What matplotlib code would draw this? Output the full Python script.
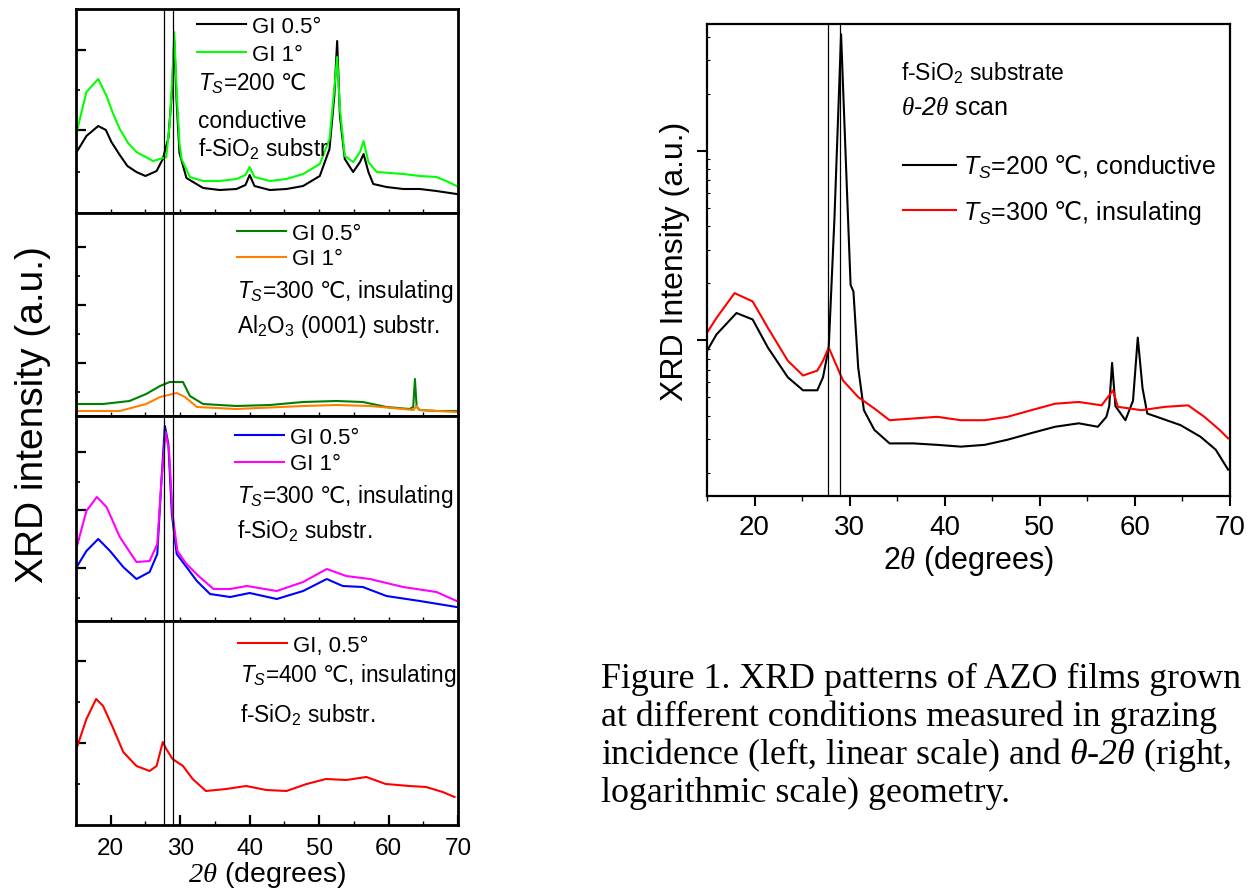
import matplotlib
matplotlib.use('Agg')
import matplotlib.pyplot as plt
from matplotlib.ticker import FixedLocator, MultipleLocator, LogLocator, NullFormatter

plt.rcParams['font.family'] = ['Liberation Sans', 'DejaVu Sans']
plt.rcParams['mathtext.fontset'] = 'custom'
plt.rcParams['mathtext.it'] = 'Liberation Sans:italic'
plt.rcParams['mathtext.rm'] = 'DejaVu Sans'
plt.rcParams['mathtext.sf'] = 'Liberation Serif:italic'
plt.rcParams['mathtext.bf'] = 'Liberation Sans:italic'

# ---------------- data ----------------
VLINES = [27.7, 29.0]

# Panel 1: Ts=200 C, conductive, f-SiO2
P1_X_GI05 = [15.1, 16.5, 18.2, 19.3, 20.1, 21.3, 22.4, 23.7, 25.0, 26.6, 27.5, 28.3, 28.8, 29.15, 29.5, 29.9,
             30.9, 33.3, 35.7, 38.1, 39.4, 40.0, 40.7, 42.9, 45.3, 47.7, 50.1, 51.5, 52.2, 52.6, 53.0, 53.7,
             54.9, 55.9, 56.4, 57.1, 57.8, 59.7, 62.1, 64.5, 66.9, 69.8]
P1_Y_GI05 = [61, 77, 87, 83, 71, 58, 47, 41, 37, 42, 54, 75, 120, 172, 110, 60,
             35, 25, 23, 24, 28, 38, 27, 23, 24, 27, 37, 64, 118, 172, 97, 54,
             41, 51, 59, 41, 29, 26, 24, 24, 22, 19]
P1_X_GI1 = [15.1, 16.5, 18.2, 19.4, 20.3, 21.3, 22.5, 23.7, 26.1, 28.0, 28.5, 28.9, 29.15, 29.5, 29.9, 30.2,
            31.4, 33.3, 35.7, 38.1, 39.4, 40.0, 40.7, 42.9, 45.3, 47.7, 50.1, 51.5, 52.2, 52.6, 53.0, 53.7,
            54.9, 55.9, 56.4, 57.1, 58.3, 62.1, 64.5, 66.9, 68.3, 69.8]
P1_Y_GI1 = [81, 121, 134, 117, 100, 84, 70, 61, 52, 56, 90, 140, 181, 120, 70, 54,
            36, 32, 32, 34, 38, 46, 36, 32, 34, 39, 49, 74, 125, 156, 104, 57,
            51, 61, 72, 51, 41, 39, 37, 36, 32, 27]

# Panel 2: Ts=300 C, insulating, Al2O3
P2_X_GI05 = [15.1, 18.9, 22.7, 25.1, 27.1, 28.5, 30.4, 31.4, 33.3, 38.1, 42.9, 47.7, 52.5, 56.3, 59.7,
             63.0, 63.55, 63.8, 64.05, 64.5, 66.9, 69.8]
P2_Y_GI05 = [12, 12, 15, 22, 30, 34, 34, 20, 12, 10, 11, 14, 15, 14, 9,
             7, 9, 37, 9, 6, 5, 5]
P2_X_GI1 = [15.1, 21.3, 25.1, 27.1, 29.5, 30.7, 32.4, 38.1, 47.7, 52.5, 57.3, 62.1, 63.6, 64.0, 64.4, 69.8]
P2_Y_GI1 = [5, 5, 12, 19, 23, 19, 9, 7, 10, 11, 10, 7, 6, 10, 6, 4]

# Panel 3: Ts=300 C, insulating, f-SiO2
P3_X_GI05 = [15.1, 16.5, 18.2, 19.9, 21.8, 23.7, 25.6, 26.7, 27.3, 27.8, 28.3, 28.8, 29.5, 30.9, 32.4,
             34.3, 37.2, 40.0, 43.9, 47.7, 51.1, 53.4, 56.3, 59.7, 64.5, 69.8]
P3_Y_GI05 = [54, 70, 82, 70, 54, 42, 49, 67, 140, 195, 177, 107, 67, 54, 40,
             27, 24, 28, 22, 30, 42, 35, 34, 25, 20, 14]
P3_X_GI1 = [15.1, 16.5, 18.0, 19.4, 21.3, 23.7, 25.6, 26.7, 27.3, 27.9, 28.4, 28.9, 29.6, 30.9, 32.8,
            34.8, 37.2, 39.6, 43.9, 47.7, 51.1, 53.9, 57.3, 62.1, 66.9, 69.8]
P3_Y_GI1 = [74, 110, 124, 114, 84, 59, 60, 77, 140, 189, 170, 107, 70, 57, 44,
            32, 32, 35, 30, 39, 52, 45, 42, 34, 29, 20]

# Panel 4: Ts=400 C, insulating, f-SiO2
P4_X_GI05 = [15.2, 16.5, 17.9, 18.9, 20.4, 21.8, 23.7, 25.6, 26.6, 27.5, 28.0, 28.9, 30.4, 31.8, 33.7,
             36.6, 39.5, 42.4, 45.3, 48.2, 51.0, 53.9, 56.8, 59.6, 63.0, 65.4, 67.8, 69.5]
P4_Y_GI05 = [79, 106, 126, 119, 96, 73, 59, 54, 59, 83, 76, 66, 59, 46, 34,
             36, 39, 35, 34, 41, 46, 45, 48, 41, 39, 38, 33, 28]

# Right: theta-2theta scan (log scale)
R_X_200 = [15.0, 16.0, 18.1, 19.8, 21.4, 23.5, 25.1, 26.6, 27.2, 27.8, 28.4, 29.1, 29.7, 30.1, 30.4, 30.9,
           31.5, 32.6, 34.2, 36.7, 39.2, 41.7, 44.2, 46.6, 49.1, 51.6, 54.1, 56.1, 57.0, 57.3, 57.6, 57.95,
           59.0, 59.8, 60.3, 60.8, 61.3, 62.3, 64.8, 66.9, 68.5, 69.8]
R_Y_200 = [879, 1074, 1393, 1288, 916, 638, 545, 545, 638, 916, 4365, 41115, 6516, 1959, 1807, 719,
           428, 337, 286, 286, 281, 275, 281, 299, 324, 350, 365, 350, 395, 450, 760, 450,
           379, 480, 1033, 560, 411, 395, 357, 310, 265, 208]
R_X_300 = [15.0, 16.0, 17.9, 19.8, 21.4, 23.5, 25.1, 26.6, 27.2, 27.8, 28.4, 29.3, 30.9, 32.6, 34.2, 36.7,
           39.2, 41.7, 44.2, 46.6, 49.1, 51.6, 54.1, 56.5, 57.7, 58.2, 60.7, 63.2, 65.6, 67.3, 68.9, 69.8]
R_Y_300 = [1096, 1312, 1774, 1603, 1164, 780, 652, 692, 780, 916, 780, 614, 502, 437, 379, 387,
           395, 379, 379, 395, 428, 463, 473, 454, 545, 446, 428, 446, 454, 395, 337, 304]

X_TICKS = [20, 30, 40, 50, 60, 70]

# ---------------- figure ----------------
W, H = 1255, 895
fig = plt.figure(figsize=(W / 100, H / 100), dpi=100)


def fx(x):
    return x / W


def fy(y):
    return 1 - y / H


def left_axes(top, bottom):
    return fig.add_axes([fx(76), fy(bottom), fx(458) - fx(76), (bottom - top) / H])


LW = 1.5
panels = [
    dict(top=10, bottom=214, major=[83, 163], minor=[41, 123],
         series=[(P1_X_GI05, P1_Y_GI05, 'black', 'GI 0.5°'), (P1_X_GI1, P1_Y_GI1, '#00ff00', 'GI 1°')],
         leg=(197, 17), sp=0.32),
    dict(top=214, bottom=417, major=[53, 111, 169], minor=[24, 82, 140],
         series=[(P2_X_GI05, P2_Y_GI05, '#008000', 'GI 0.5°'), (P2_X_GI1, P2_Y_GI1, '#ff8000', 'GI 1°')],
         leg=(237, 224), sp=0.2),
    dict(top=417, bottom=622, major=[53, 111, 169], minor=[23, 82, 139],
         series=[(P3_X_GI05, P3_Y_GI05, '#0000ff', 'GI 0.5°'), (P3_X_GI1, P3_Y_GI1, '#ff00ff', 'GI 1°')],
         leg=(235, 428), sp=0.24),
    dict(top=622, bottom=826, major=[82, 164], minor=[41, 123],
         series=[(P4_X_GI05, P4_Y_GI05, '#ff0000', 'GI, 0.5°')],
         leg=(238, 636), sp=0.2),
]

for i, p in enumerate(panels):
    ax = left_axes(p['top'], p['bottom'])
    for xs, ys, c, lab in p['series']:
        ax.plot(xs, ys, color=c, lw=LW, label=lab)
    for v in VLINES:
        ax.axvline(v, color='black', lw=0.9)
    ax.set_xlim(15, 70)
    ax.set_ylim(0, p['bottom'] - p['top'])
    ax.yaxis.set_major_locator(FixedLocator(p['major']))
    ax.yaxis.set_minor_locator(FixedLocator(p['minor']))
    ax.tick_params(axis='y', which='major', direction='in', length=7, width=1.6, labelleft=False)
    ax.tick_params(axis='y', which='minor', direction='in', length=3, width=1.2)
    ax.xaxis.set_major_locator(FixedLocator(X_TICKS))
    ax.xaxis.set_minor_locator(MultipleLocator(5))
    for s in ax.spines.values():
        s.set_linewidth(2.0)
    if i < 3:
        ax.tick_params(axis='x', which='both', direction='in', length=3, width=1.0, labelbottom=False)
    else:
        ax.tick_params(axis='x', which='major', direction='in', length=7, width=1.6,
                       labelsize=17.5, pad=9)
        ax.tick_params(axis='x', which='minor', direction='in', length=3, width=1.0)
        ax.set_xlabel(r'$\mathsf{2\theta}$ (degrees)', fontsize=20.5, labelpad=0)
    lx, ly = p['leg']
    ax.legend(loc='upper left', bbox_to_anchor=(fx(lx), fy(ly)), bbox_transform=fig.transFigure,
              frameon=False, fontsize=16, handlelength=2.2, handletextpad=0.28,
              labelspacing=p['sp'], borderpad=0, borderaxespad=0)

TXT = 16.3
fig.text(fx(198), fy(90), r'$T_S$=200 $\mathrm{℃}$', fontsize=TXT, va='baseline')
fig.text(fx(198), fy(128), 'conductive', fontsize=TXT, va='baseline')
fig.text(fx(198), fy(156), r'f-SiO$_\mathregular{2}$ substr', fontsize=TXT, va='baseline')
fig.text(fx(237), fy(298), r'$T_S$=300 $\mathrm{℃}$, insulating', fontsize=TXT, va='baseline')
fig.text(fx(237), fy(333), r'Al$_\mathregular{2}$O$_\mathregular{3}$ (0001) substr.', fontsize=TXT, va='baseline')
fig.text(fx(237), fy(503), r'$T_S$=300 $\mathrm{℃}$, insulating', fontsize=TXT, va='baseline')
fig.text(fx(237), fy(538), r'f-SiO$_\mathregular{2}$ substr.', fontsize=TXT, va='baseline')
fig.text(fx(240), fy(682), r'$T_S$=400 $\mathrm{℃}$, insulating', fontsize=TXT, va='baseline')
fig.text(fx(240), fy(722), r'f-SiO$_\mathregular{2}$ substr.', fontsize=TXT, va='baseline')

fig.text(fx(33), fy(415), 'XRD intensity (a.u.)', fontsize=28, rotation=90, ha='center', va='center')

# ---------------- right panel ----------------
axr = fig.add_axes([fx(707), fy(497), fx(1230) - fx(707), (497 - 25) / H])
axr.plot(R_X_200, R_Y_200, color='black', lw=LW, label=r'$T_S$=200 $\mathrm{℃}$, conductive')
axr.plot(R_X_300, R_Y_300, color='#ff0000', lw=LW, label=r'$T_S$=300 $\mathrm{℃}$, insulating')
for v in VLINES:
    axr.axvline(v, color='black', lw=0.9)
axr.set_yscale('log')
axr.set_xlim(15, 70)
axr.set_ylim(151, 46560)
axr.xaxis.set_major_locator(FixedLocator(X_TICKS))
axr.xaxis.set_minor_locator(MultipleLocator(5))
axr.yaxis.set_major_locator(FixedLocator([1000, 10000]))
axr.yaxis.set_minor_locator(LogLocator(base=10, subs=range(2, 10)))
axr.yaxis.set_major_formatter(NullFormatter())
axr.yaxis.set_minor_formatter(NullFormatter())
axr.tick_params(axis='x', which='major', direction='out', length=7, width=1.5, labelsize=20, pad=6)
axr.tick_params(axis='x', which='minor', direction='out', length=3.5, width=1.0)
axr.tick_params(axis='y', which='major', direction='out', length=7, width=1.5)
axr.tick_params(axis='y', which='minor', direction='in', length=2.5, width=0.8)
for s in axr.spines.values():
    s.set_linewidth(1.6)
axr.set_xlabel(r'2$\mathsf{\theta}$ (degrees)', fontsize=22, labelpad=2)
axr.set_ylabel('XRD Intensity (a.u.)', fontsize=23, labelpad=2)
axr.legend(loc='upper left', bbox_to_anchor=(fx(903), fy(154)), bbox_transform=fig.transFigure,
           frameon=False, fontsize=18, handlelength=2.1, handletextpad=0.3,
           labelspacing=0.72, borderpad=0, borderaxespad=0)
fig.text(fx(901), fy(80), r'f-SiO$_\mathregular{2}$ substrate', fontsize=16.5, va='baseline')
fig.text(fx(901), fy(115), r'$\mathsf{\theta}$-$\mathbf{2}\mathsf{\theta}$ scan', fontsize=18, va='baseline')

# ---------------- caption ----------------
CAP = ['Figure 1. XRD patterns of AZO films grown',
       'at different conditions measured in grazing',
       r'incidence (left, linear scale) and $\mathsf{\theta}$-$\mathsf{2\theta}$ (right,',
       'logarithmic scale) geometry.']
cap_y = [688, 726, 764, 802]
for line, yb in zip(CAP, cap_y):
    fig.text(fx(601), fy(yb), line, fontsize=25.8, family='Liberation Serif', va='baseline')

fig.savefig('out.png', dpi=100)
